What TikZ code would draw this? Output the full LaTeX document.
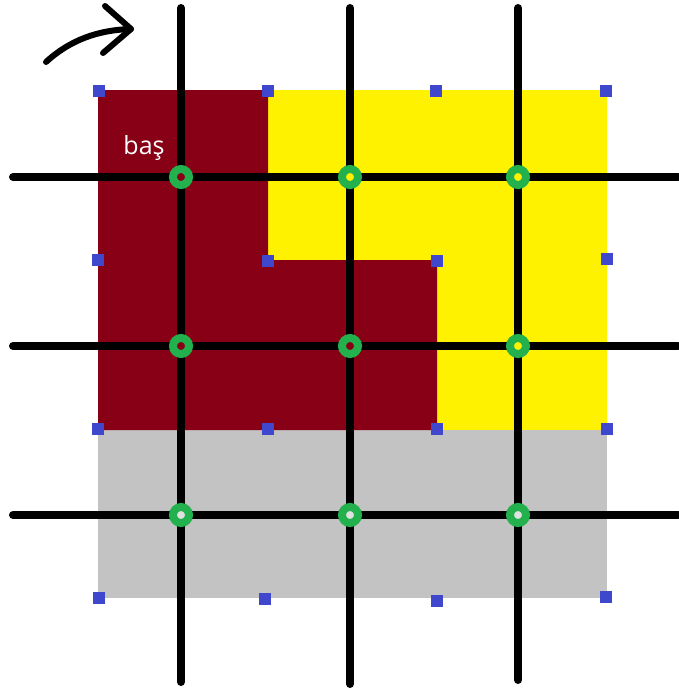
\documentclass[tikz,border=0pt]{standalone}
\usepackage{fontspec}
\setmainfont{Open Sans}
\definecolor{pdark}{HTML}{880015}
\definecolor{pyellow}{HTML}{FFF200}
\definecolor{pgray}{HTML}{C3C3C3}
\definecolor{pgreen}{HTML}{22B14C}
\definecolor{pblue}{HTML}{3F48CC}
\tikzset{
  gridline/.style={draw=black, line width=8pt, line cap=round},
  ring/.style={circle, draw=pgreen, line width=8pt, minimum size=16pt, inner sep=0pt},
  corner/.style={rectangle, fill=pblue, minimum size=12pt, inner sep=0pt},
  arrowline/.style={draw=black, line width=6pt, line cap=round, line join=round},
}
\begin{document}
\begin{tikzpicture}[x=1pt,y=-1pt]
\useasboundingbox (0,0) rectangle (678,688);
% regions
\fill[pgray] (98,430) rectangle (607,598);
\fill[pyellow] (268,90) rectangle (607,430);
\fill[pdark] (98,90) -- (268,90) -- (268,260) -- (437,260) -- (437,430) -- (98,430) -- cycle;
% line ends
\coordinate (v1t) at (181,8);   \coordinate (v1b) at (181,682);
\coordinate (v2t) at (350,8);   \coordinate (v2b) at (350,684);
\coordinate (v3t) at (518,8);   \coordinate (v3b) at (518,680);
\coordinate (h1l) at (13,177);  \coordinate (h1r) at (678,177);
\coordinate (h2l) at (13,346);  \coordinate (h2r) at (678,346);
\coordinate (h3l) at (13,515);  \coordinate (h3r) at (678,515);
\draw[gridline] (v1t) -- (v1b);
\draw[gridline] (v2t) -- (v2b);
\draw[gridline] (v3t) -- (v3b);
\draw[gridline] (h1l) -- (h1r);
\draw[gridline] (h2l) -- (h2r);
\draw[gridline] (h3l) -- (h3r);
% rings
\node[ring, fill=pdark]   (r11) at (181,177) {};
\node[ring, fill=pyellow] (r12) at (350,177) {};
\node[ring, fill=pyellow] (r13) at (518,177) {};
\node[ring, fill=pdark]   (r21) at (181,346) {};
\node[ring, fill=pdark]   (r22) at (350,346) {};
\node[ring, fill=pyellow] (r23) at (518,346) {};
\node[ring, fill=pgray!50!white] (r31) at (181,515) {};
\node[ring, fill=pgray!50!white] (r32) at (350,515) {};
\node[ring, fill=pgray!50!white] (r33) at (518,515) {};
% corner squares
\node[corner] (c11) at (99,91) {};
\node[corner] (c12) at (268,91) {};
\node[corner] (c13) at (436,91) {};
\node[corner] (c14) at (606,91) {};
\node[corner] (c21) at (98,260) {};
\node[corner] (c22) at (268,261) {};
\node[corner] (c23) at (437,261) {};
\node[corner] (c24) at (607,259) {};
\node[corner] (c31) at (98,429) {};
\node[corner] (c32) at (268,429) {};
\node[corner] (c33) at (437,429) {};
\node[corner] (c34) at (607,429) {};
\node[corner] (c41) at (99,598) {};
\node[corner] (c42) at (265,599) {};
\node[corner] (c43) at (437,601) {};
\node[corner] (c44) at (606,597) {};
% label
\node[text=white, font=\fontsize{25}{25}\selectfont, inner sep=0pt] (bas) at (144,148) {baş};
% arrow
\coordinate (a0) at (46,62);
\coordinate (a1) at (131,29);
\coordinate (h0) at (105,6);
\coordinate (h2) at (103,53);
\draw[arrowline] (a0) .. controls (70,40) and (98,30) .. (a1);
\draw[arrowline] (h0) -- (a1) -- (h2);
\end{tikzpicture}
\end{document}
